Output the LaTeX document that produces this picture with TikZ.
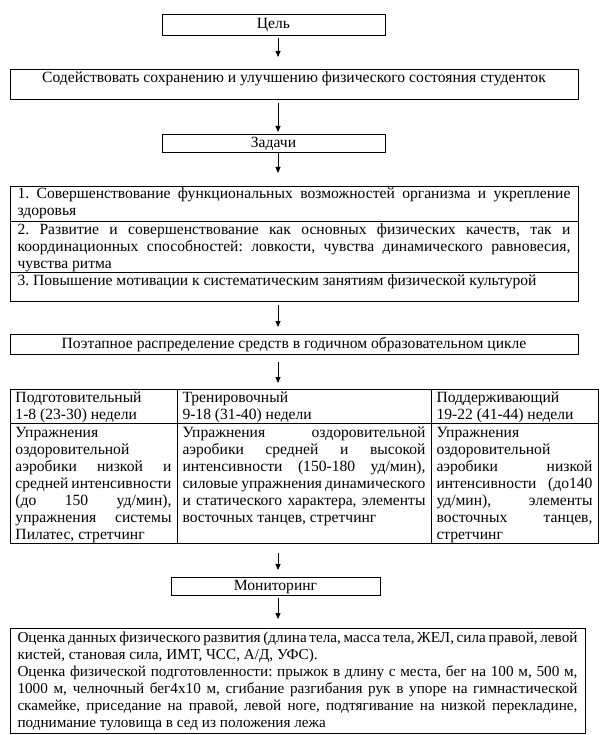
\documentclass[tikz,border=0pt]{standalone}
\usepackage{fontspec}
\setmainfont{Liberation Serif}
\usetikzlibrary{arrows.meta}
\frenchspacing

% one justified line of a cell
\newcommand{\jline}[1]{\makebox[\hsize][s]{\spaceskip=0pt\xspaceskip=0pt #1}}

\begin{document}
\begin{tikzpicture}[
  x=1pt, y=-1pt,
  font=\fontsize{15.6pt}{17pt}\selectfont,
  block/.style={draw, line width=0.9pt, anchor=north west, inner xsep=7.5pt, inner ysep=0pt, outer sep=0pt, align=flush left},
  cell/.style={block, inner xsep=5.5pt},
  arrow/.style={-{Triangle[length=6pt,width=5pt]}, line width=0.8pt}
]
\useasboundingbox (0,0) rectangle (606,735);
\coordinate (axis) at (278,0);

\node[block, align=flush center, text width=208pt, text height=15pt, text depth=6pt] (cel) at (162,14) {Цель};
\node[block, align=flush center, text width=553pt, text height=14pt, text depth=16pt] (goal) at (10,69) {Содействовать сохранению и улучшению физического состояния студенток};
\node[block, align=flush center, text width=208pt, text height=14pt, text depth=4pt] (tasks) at (162,134) {Задачи};

\node[block, text width=553pt, text height=13pt, text depth=22pt] (task1) at (10,186)
  {\jline{1. Совершенствование функциональных возможностей организма и укрепление}\\здоровья};
\node[block, text width=553pt, text height=13pt, text depth=38pt] (task2) at (10,221)
  {\jline{2. Развитие и совершенствование как основных физических качеств, так и}\\
   \jline{координационных способностей: ловкости, чувства динамического равновесия,}\\чувства ритма};
\node[block, text width=553pt, text height=13pt, text depth=16pt] (task3) at (10,272)
  {3. Повышение мотивации к систематическим занятиям физической культурой};

\node[block, align=flush center, text width=553pt, text height=14pt, text depth=6pt] (phases) at (10,334)
  {Поэтапное распределение средств в годичном образовательном цикле};

% table of the three stages
\node[cell, text width=156pt, text height=13pt, text depth=21pt] (prephead) at (10,389)
  {Подготовительный\\1-8 (23-30) недели};
\node[cell, text width=243pt, text height=13pt, text depth=21pt] (trainhead) at (177,389)
  {Тренировочный\\9-18 (31-40) недели};
\node[cell, text width=156pt, text height=13pt, text depth=21pt] (keephead) at (431,389)
  {Поддерживающий\\19-22 (41-44) недели};
\node[cell, text width=156pt, text height=14pt, text depth=106pt] (prepbody) at (10,423)
  {Упражнения\\оздоровительной\\\jline{аэробики низкой и}\\\jline{средней интенсивности}\\
   \jline{(до 150 уд/мин),}\\\jline{упражнения системы}\\Пилатес, стретчинг};
\node[cell, text width=243pt, text height=14pt, text depth=106pt] (trainbody) at (177,423)
  {\jline{Упражнения оздоровительной}\\\jline{аэробики средней и высокой}\\
   \jline{интенсивности (150-180 уд/мин),}\\\jline{силовые упражнения динамического}\\
   \jline{и статического характера, элементы}\\восточных танцев, стретчинг};
\node[cell, text width=156pt, text height=14pt, text depth=106pt] (keepbody) at (431,423)
  {Упражнения\\оздоровительной\\\jline{аэробики низкой}\\\jline{интенсивности (до140}\\
   \jline{уд/мин), элементы}\\\jline{восточных танцев,}\\стретчинг};

\node[block, align=flush center, text width=194pt, text height=13pt, text depth=5pt] (monit) at (171,577) {Мониторинг};
\node[block, font=\fontsize{15.2pt}{17pt}\selectfont, text width=560pt, text height=14pt, text depth=91pt] (assess) at (10,628)
  {\jline{Оценка данных физического развития (длина тела, масса тела, ЖЕЛ, сила правой, левой}\\
   кистей, становая сила, ИМТ, ЧСС, А/Д, УФС).\\
   \jline{Оценка физической подготовленности: прыжок в длину с места, бег на 100 м, 500 м,}\\
   \jline{1000 м, челночный бег4х10 м, сгибание разгибания рук в упоре на гимнастической}\\
   \jline{скамейке, приседание на правой, левой ноге, подтягивание на низкой перекладине,}\\
   поднимание туловища в сед из положения лежа};

\draw[arrow, shorten <=3pt, shorten >=12pt] (cel.south -| axis) -- (goal.north -| axis);
\draw[arrow, shorten <=4pt, shorten >=2pt] (goal.south -| axis) -- (tasks.north -| axis);
\draw[arrow, shorten <=1pt, shorten >=13pt] (tasks.south -| axis) -- (task1.north -| axis);
\draw[arrow, shorten <=4pt, shorten >=7pt] (task3.south -| axis) -- (phases.north -| axis);
\draw[arrow, shorten <=8pt, shorten >=6pt] (phases.south -| axis) -- (trainhead.north -| axis);
\draw[arrow, shorten <=10pt, shorten >=7pt] (trainbody.south -| axis) -- (monit.north -| axis);
\draw[arrow, shorten <=3pt, shorten >=9pt] (monit.south -| axis) -- (assess.north -| axis);
\end{tikzpicture}
\end{document}
